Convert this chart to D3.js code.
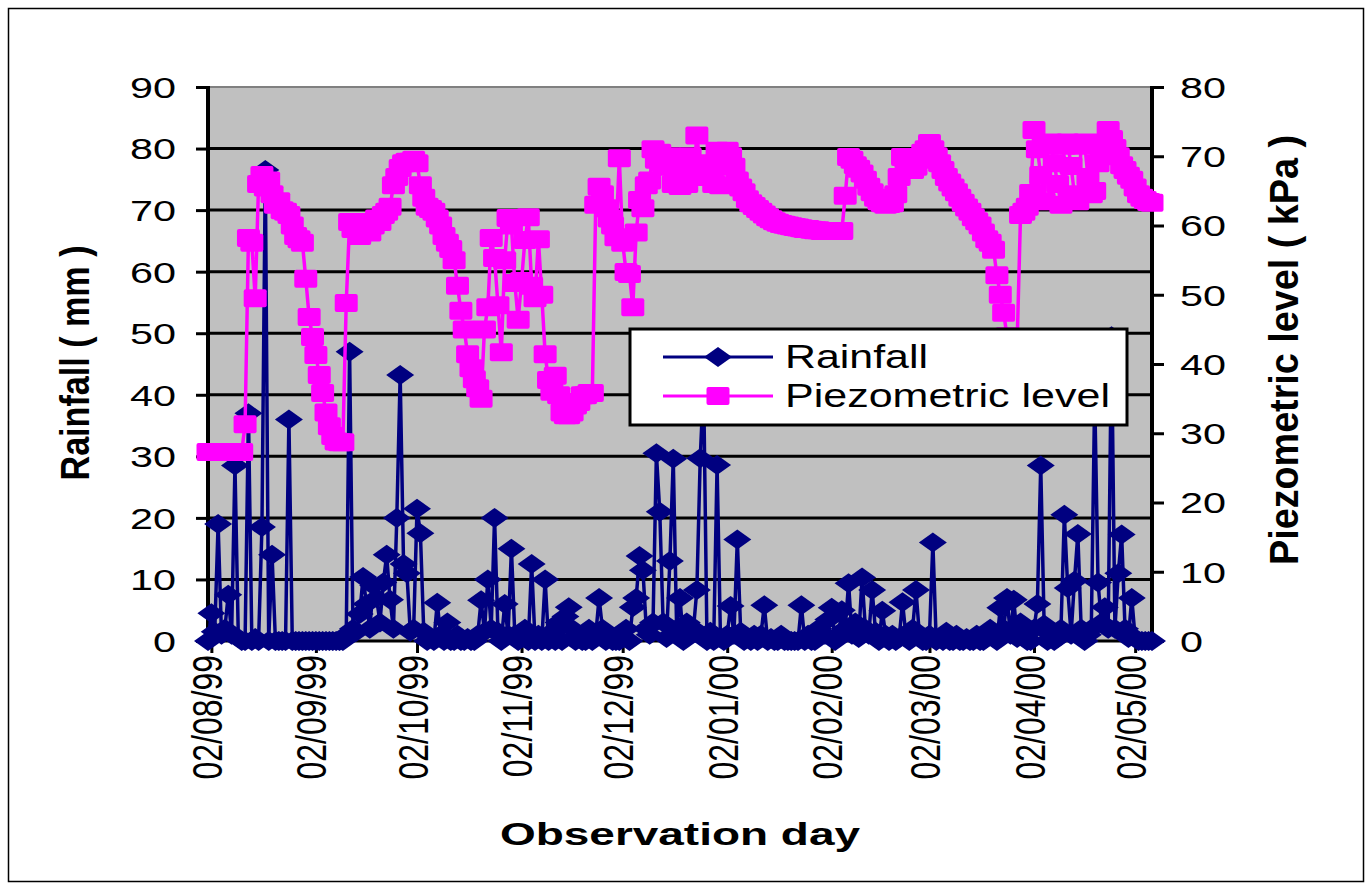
<!DOCTYPE html>
<html>
<head>
<meta charset="utf-8">
<script src="https://cdn.jsdelivr.net/npm/d3@7"></script>
<style>
  body { margin: 0; background: #ffffff; }
  svg { display: block; font-family: "Liberation Sans", Arial, sans-serif; }
</style>
</head>
<body>
<script>
// ---- Daily observations, starting on firstDay (one value per day) ----
const firstDay = "1999-08-01";
const lastAxisDay = "2000-05-07";

// Rainfall (mm), one value per day
const rainfall = [
  // Aug 1999
  0, 4.5, 1.5, 19, 1, 2, 7.5, 1, 28.5, 0.5, 0, 0, 37, 0, 0.5, 0, 18.5, 76.5, 0, 14,
  0, 0, 0, 0, 36, 0, 0, 0, 0, 0, 0,
  // Sep 1999
  0, 0, 0, 0, 0, 0, 0, 0, 0, 0, 1, 47, 2, 1.5, 4.4, 10.4, 6, 2, 9, 7,
  3, 9.5, 14, 6.7, 2, 20, 43.2, 12.5, 11, 1.5,
  // Oct 1999
  2, 21.5, 17.5, 1.5, 0, 0.5, 0, 6.2, 1, 0, 3, 0, 0, 1, 0, 0, 0.5, 0, 0, 1,
  6.6, 1.5, 10, 2, 20, 1.5, 0, 6, 1, 15, 1,
  // Nov 1999
  0, 0.5, 2, 0, 12.5, 0, 1, 0, 10, 0, 1.5, 0, 3, 0, 4, 5.5, 2, 0, 1, 0,
  0, 2, 0, 1, 7, 2, 0, 1, 0, 0,
  // Dec 1999
  0, 0.5, 2, 0, 5.5, 7, 13.8, 11.5, 2, 1, 3, 30.5, 21, 3, 0.5, 13, 29.6, 2, 7, 0,
  3, 1, 2, 8.3, 29.7, 42, 0, 1.5, 0, 28.6, 0.5,
  // Jan 2000
  0, 1, 5.7, 1, 16.5, 1.5, 0, 0.5, 0, 1, 0, 1, 5.8, 0, 0.5, 0, 0, 1, 0, 0,
  0, 0, 0, 5.8, 0, 1, 0, 0, 2, 1, 1,
  // Feb 2000
  3.5, 5.4, 0, 1, 5, 2, 9.4, 1, 3, 0.5, 10.3, 2, 1, 8.3, 1.5, 0, 4.9, 1, 0, 1,
  0, 0.5, 6.3, 1, 0, 2, 8.3, 1, 0,
  // Mar 2000
  0, 1, 16, 0, 0.5, 0, 1.5, 0, 0, 1, 0, 0, 0.5, 0, 0, 1, 0, 0, 0.5, 2,
  1, 0, 5.4, 2, 7, 1, 6.7, 0.5, 3, 1, 0,
  // Apr 2000
  0, 2, 6, 28.5, 2.7, 0, 1, 0, 0.5, 2, 20.5, 8.6, 1, 9.8, 17.4, 2, 0, 1, 2, 40,
  9.5, 3, 5.5, 2, 49.5, 2, 11, 17.3, 2, 0.5,
  // May 2000
  7, 0.5, 0, 0, 0, 0, 0
];

// Piezometric level (kPa), one value per day
const piezometric = [
  // Aug 1999
  27.3, 27.3, 27.3, 27.3, 27.3, 27.3, 27.3, 27.3, 27.3, 27.3, 27.3, 31.3, 58.2, 57.5, 49.5, 66, 67.3, 65.5, 66.5, 64.5,
  63, 63.5, 62.2, 62, 61.5, 60, 58.5, 58, 57.5, 52.3, 46.8,
  // Sep 1999
  43.9, 41.3, 38.4, 35.8, 33, 31, 29.6, 28.8, 28.7, 28.7, 48.8, 60.5, 59.5, 60, 58.5, 59.5, 60.5, 59, 60, 61,
  60.5, 61.5, 62, 62.7, 65.8, 67, 68.3, 69, 69.2, 69.2,
  // Oct 1999
  69.5, 69, 65.8, 64, 62.7, 62.4, 62, 61, 60, 58.5, 57.5, 56.6, 55, 51.3, 47.7, 45, 41.4, 39.4, 37.8, 36.5,
  35, 45, 48.2, 58.2, 55.3, 48.5, 41.7, 55, 61.1, 60, 51.7,
  // Nov 1999
  46.4, 52, 57.9, 61.2, 51.3, 49.5, 58, 50, 41.4, 37.7, 36, 38.3, 35.5, 33, 32.6, 32.6, 33, 34, 34.5, 35.5,
  35.5, 35.8, 35.8, 63, 65.6, 64.5, 62.5, 61, 60, 58.3,
  // Dec 1999
  69.7, 57.5, 53.3, 53, 48.2, 59, 63.7, 62.5, 65.8, 66.5, 71, 69.5, 70.5, 69, 68.5, 70, 66, 68, 65.7, 69,
  66, 70, 67, 73, 68.5, 67, 69, 68, 66, 70.8, 65.8,
  // Jan 2000
  69.5, 70.8, 70, 68.5, 66.5, 65.5, 64.8, 63.8, 63.2, 62.8, 62.4, 62, 61.6, 61.2, 60.9, 60.6, 60.4, 60.2, 60.1, 60,
  59.9, 59.8, 59.7, 59.6, 59.5, 59.5, 59.4, 59.3, 59.3, 59.2, 59.2,
  // Feb 2000
  59.2, 59.2, 59.2, 59.2, 59.2, 64.3, 69.9, 69.5, 68.7, 68.2, 67.5, 66.6, 65.6, 64.8, 64, 63.5, 63.2, 63, 63.1, 63.2,
  64.5, 67, 69.9, 69.5, 68.5, 68, 68.5, 69.5, 70.5,
  // Mar 2000
  71, 71.9, 71, 70, 69, 68, 67, 66.2, 65.5, 64.8, 64, 63.3, 62.6, 62, 61.2, 60.6, 60, 59, 58, 57.5,
  56.5, 52.8, 50, 47.4, 44, 43, 43, 43, 61.5, 62, 62.7,
  // Apr 2000
  64.7, 73.8, 71, 67.3, 63.5, 71.5, 72, 69, 66, 63, 71.5, 72, 68.6, 64.5, 63.5, 71.5, 72, 67, 64.5, 65,
  69, 70.5, 72, 73.8, 72.5, 71.2, 70, 68.7, 68, 67.2,
  // May 2000
  66.6, 65.5, 64.5, 64, 63.7, 63.4, 63.3
];

const monthTicks = [
  "1999-08-02", "1999-09-02", "1999-10-02", "1999-11-02", "1999-12-02",
  "2000-01-02", "2000-02-02", "2000-03-02", "2000-04-02", "2000-05-02"
];
const rainTicks = [0, 10, 20, 30, 40, 50, 60, 70, 80, 90];
const piezoTicks = [0, 10, 20, 30, 40, 50, 60, 70, 80];
const seriesNames = ["Rainfall", "Piezometric level"];
const axisTitles = { left: "Rainfall ( mm )", right: "Piezometric level ( kPa )", bottom: "Observation day" };

// ---- Layout ----
const W = 1372, H = 883;
const plot = { left: 208, right: 1152, top: 87, bottom: 641 };
const NAVY = "#000080", MAGENTA = "#FF00FF", PLOT_BG = "#C0C0C0";
const textStretch = 1.32;   // horizontal glyph stretch of all text

const parse = d3.utcParse("%Y-%m-%d");
const fmt = d3.utcFormat("%d/%m/%y");
const start = parse(firstDay);
const dayOf = i => d3.utcDay.offset(start, i);

const x = d3.scaleUtc().domain([start, parse(lastAxisDay)]).range([plot.left, plot.right]);
const yL = d3.scaleLinear().domain([0, 90]).range([plot.bottom, plot.top]);
const yR = d3.scaleLinear().domain([0, 80]).range([plot.bottom, plot.top]);

const rainData = rainfall.map((v, i) => ({ date: dayOf(i), v }));
const piezoData = piezometric.map((v, i) => ({ date: dayOf(i), v }));

const svg = d3.select("body").append("svg").attr("width", W).attr("height", H);

// chart frame
svg.append("rect").attr("x", 0).attr("y", 0).attr("width", W).attr("height", H).attr("fill", "#fff");
svg.append("rect").attr("x", 8.5).attr("y", 8.5).attr("width", W - 17).attr("height", H - 10)
  .attr("fill", "none").attr("stroke", "#000").attr("stroke-width", 1.5);

// plot area
svg.append("rect")
  .attr("x", plot.left).attr("y", plot.top)
  .attr("width", plot.right - plot.left).attr("height", plot.bottom - plot.top)
  .attr("fill", PLOT_BG).attr("stroke", "#808080").attr("stroke-width", 2);

// gridlines (left axis)
svg.append("g").selectAll("line")
  .data(rainTicks.filter(t => t > 0 && t < 90))
  .join("line")
  .attr("x1", plot.left).attr("x2", plot.right)
  .attr("y1", d => yL(d)).attr("y2", d => yL(d))
  .attr("stroke", "#000").attr("stroke-width", 3);

// ---- Axes ----
const axisFont = 29;

// left axis
const gL = svg.append("g").attr("transform", `translate(${plot.left},0)`)
  .call(d3.axisLeft(yL).tickValues(rainTicks).tickSize(12).tickPadding(0).tickFormat(d3.format("d")));
gL.select(".domain").remove();
gL.selectAll(".tick line").attr("stroke", "#000").attr("stroke-width", 3);
gL.selectAll(".tick text").remove();
gL.selectAll(".tick").append("text")
  .attr("transform", `translate(-32,${axisFont * 0.36}) scale(${textStretch * 1.08},1)`)
  .attr("text-anchor", "end").attr("fill", "#000")
  .style("font-size", axisFont + "px")
  .text(d => d);
svg.append("line").attr("x1", plot.left).attr("x2", plot.left)
  .attr("y1", plot.top - 1).attr("y2", plot.bottom + 2)
  .attr("stroke", "#000").attr("stroke-width", 4);

// right axis
const gR = svg.append("g").attr("transform", `translate(${plot.right},0)`)
  .call(d3.axisRight(yR).tickValues(piezoTicks).tickSize(12).tickPadding(0).tickFormat(d3.format("d")));
gR.select(".domain").remove();
gR.selectAll(".tick line").attr("stroke", "#000").attr("stroke-width", 3);
gR.selectAll(".tick text").remove();
gR.selectAll(".tick").append("text")
  .attr("transform", `translate(28,${axisFont * 0.36}) scale(${textStretch * 1.08},1)`)
  .attr("text-anchor", "start").attr("fill", "#000")
  .style("font-size", axisFont + "px")
  .text(d => d);
svg.append("line").attr("x1", plot.right).attr("x2", plot.right)
  .attr("y1", plot.top - 1).attr("y2", plot.bottom + 2)
  .attr("stroke", "#000").attr("stroke-width", 4);

// bottom axis
const gB = svg.append("g").attr("transform", `translate(0,${plot.bottom})`)
  .call(d3.axisBottom(x).tickValues(monthTicks.map(parse)).tickSize(12).tickFormat(fmt));
gB.select(".domain").remove();
gB.selectAll(".tick line").attr("stroke", "#000").attr("stroke-width", 3);
gB.selectAll(".tick text").remove();
gB.selectAll(".tick").append("text")
  .attr("transform", `translate(10,14) scale(${textStretch},1) rotate(-90)`)
  .attr("text-anchor", "end").attr("fill", "#000")
  .style("font-size", "32px")
  .text(d => fmt(d));
svg.append("line").attr("x1", plot.left).attr("x2", plot.right)
  .attr("y1", plot.bottom).attr("y2", plot.bottom)
  .attr("stroke", "#000").attr("stroke-width", 3);

// ---- Series ----
const diamond = "M0,-10L14,0L0,10L-14,0Z";

// rainfall (left axis)
svg.append("path").datum(rainData)
  .attr("fill", "none").attr("stroke", NAVY).attr("stroke-width", 3.5).attr("stroke-linejoin", "round")
  .attr("d", d3.line().x(d => x(d.date)).y(d => yL(d.v)));
svg.append("g").selectAll("path")
  .data(rainData).join("path")
  .attr("transform", d => `translate(${x(d.date)},${yL(d.v)})`)
  .attr("d", diamond).attr("fill", NAVY);

// piezometric level (right axis)
svg.append("path").datum(piezoData)
  .attr("fill", "none").attr("stroke", MAGENTA).attr("stroke-width", 3.5).attr("stroke-linejoin", "round")
  .attr("d", d3.line().x(d => x(d.date)).y(d => yR(d.v)));
svg.append("g").selectAll("rect")
  .data(piezoData).join("rect")
  .attr("x", d => x(d.date) - 11.5).attr("y", d => yR(d.v) - 9)
  .attr("width", 23).attr("height", 18).attr("rx", 2)
  .attr("fill", MAGENTA);

// ---- Axis titles ----
svg.append("text")
  .attr("transform", `translate(89,363) scale(${textStretch},1) rotate(-90)`)
  .attr("text-anchor", "middle").attr("font-weight", "bold").style("font-size", "31px")
  .attr("textLength", 235).attr("lengthAdjust", "spacingAndGlyphs")
  .text(axisTitles.left);
svg.append("text")
  .attr("transform", `translate(1298,350) scale(${textStretch},1) rotate(-90)`)
  .attr("text-anchor", "middle").attr("font-weight", "bold").style("font-size", "31px")
  .attr("textLength", 430).attr("lengthAdjust", "spacingAndGlyphs")
  .text(axisTitles.right);
svg.append("text")
  .attr("x", 680).attr("y", 845)
  .attr("text-anchor", "middle").attr("font-weight", "bold").style("font-size", "31px")
  .attr("textLength", 360).attr("lengthAdjust", "spacingAndGlyphs")
  .text(axisTitles.bottom);

// ---- Legend ----
const lg = svg.append("g");
lg.append("rect").attr("x", 630).attr("y", 329).attr("width", 497).attr("height", 96)
  .attr("fill", "#fff").attr("stroke", "#000").attr("stroke-width", 3);
const legendRows = [
  { name: seriesNames[0], color: NAVY, y: 357, marker: "diamond" },
  { name: seriesNames[1], color: MAGENTA, y: 396, marker: "square" }
];
legendRows.forEach(r => {
  lg.append("line").attr("x1", 663).attr("x2", 773).attr("y1", r.y).attr("y2", r.y)
    .attr("stroke", r.color).attr("stroke-width", 3);
  if (r.marker === "diamond") {
    lg.append("path").attr("transform", `translate(718,${r.y})`).attr("d", diamond).attr("fill", r.color);
  } else {
    lg.append("rect").attr("x", 706.5).attr("y", r.y - 9).attr("width", 23).attr("height", 18)
      .attr("rx", 2).attr("fill", r.color);
  }
  lg.append("text").attr("x", 785).attr("y", r.y + 11)
    .style("font-size", "33px").attr("fill", "#000")
    .attr("textLength", r.marker === "diamond" ? 143 : 325).attr("lengthAdjust", "spacingAndGlyphs")
    .text(r.name);
});
</script>
</body>
</html>
